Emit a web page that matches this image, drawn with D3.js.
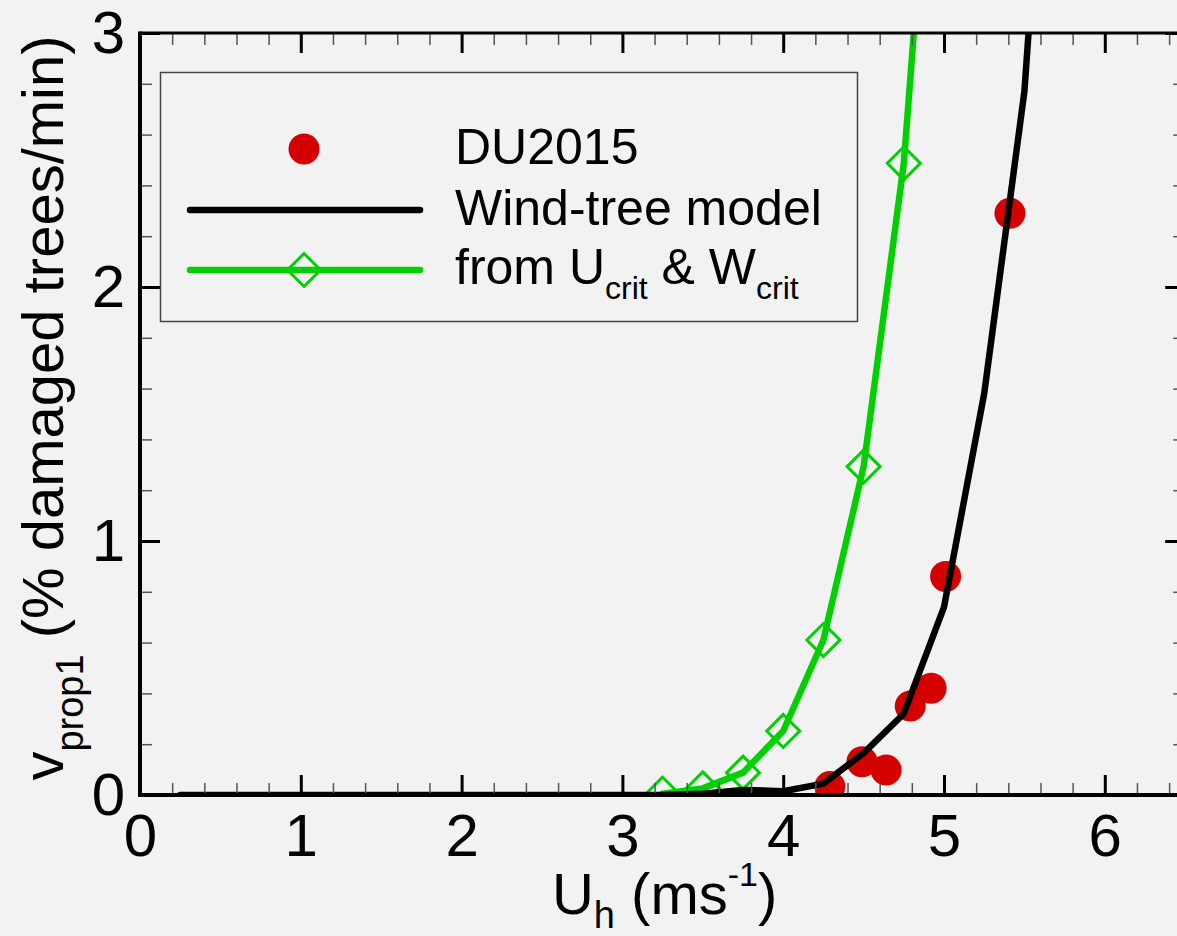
<!DOCTYPE html>
<html>
<head>
<meta charset="utf-8">
<script src="https://cdn.jsdelivr.net/npm/d3@7"></script>
<style>
  html, body { margin: 0; padding: 0; background: #f2f2f2; }
  svg { display: block; font-family: "Liberation Sans", Arial, sans-serif; }
</style>
</head>
<body>
<svg id="chart" width="1177" height="936"></svg>
<script>
// wind-tree model curve
const modelX = [0.25, 0.5, 0.75, 1, 1.25, 1.5, 1.75, 2, 2.25, 2.5, 2.75, 3, 3.25, 3.5, 3.75, 4, 4.25, 4.5, 4.75, 5, 5.25, 5.5, 5.75];
const modelY = [0, 0, 0, 0, 0, 0, 0, 0, 0, 0, 0, 0, 0, 0.005, 0.02, 0.015, 0.045, 0.165, 0.32, 0.74, 1.58, 2.77, 5.0];
// from U_crit & W_crit
const critX = [3.25, 3.5, 3.75, 4, 4.25, 4.5, 4.75, 5];
const critY = [0.005, 0.026, 0.088, 0.252, 0.61, 1.293, 2.487, 4.55];
// DU2015 observations
const duX = [4.29, 4.49, 4.64, 4.79, 4.92, 5.01, 5.41];
const duY = [0.033, 0.131, 0.098, 0.35, 0.42, 0.86, 2.29];

const xMajor = [0, 1, 2, 3, 4, 5, 6];
const yMajor = [0, 1, 2, 3];

const RED = '#d40000';
const GREEN = '#00d000';

const svg = d3.select('#chart');
const margin = {left: 140, top: 33};
const plotW = 6.5 * 160.8;
const plotH = 762;

const x = d3.scaleLinear().domain([0, 6.5]).range([margin.left, margin.left + plotW]);
const y = d3.scaleLinear().domain([0, 3]).range([margin.top + plotH, margin.top]);

const xMinor = d3.range(0, 6.5, 0.2).filter(v => Math.abs(v - Math.round(v)) > 1e-6);
const yMinor = d3.range(0, 3, 0.2).filter(v => Math.abs(v - Math.round(v)) > 1e-6);

svg.append('defs').append('clipPath').attr('id', 'plotClip')
  .append('rect')
  .attr('x', x(0)).attr('y', y(3))
  .attr('width', x(6.5) - x(0)).attr('height', y(0) - y(3));

const plot = svg.append('g').attr('clip-path', 'url(#plotClip)');

// DU2015 dots
plot.selectAll('.du')
  .data(duX.map((d, i) => ({x: d, y: duY[i]})))
  .join('circle').attr('class', 'du')
  .attr('cx', d => x(d.x))
  .attr('cy', d => y(d.y))
  .attr('r', 15.5)
  .style('fill', RED);

const line = d3.line().x(d => x(d.x)).y(d => y(d.y));

// green curve + diamonds
const critData = critX.map((d, i) => ({x: d, y: critY[i]}));
plot.append('path')
  .datum(critData)
  .attr('d', line)
  .style('fill', 'none')
  .style('stroke', GREEN)
  .style('stroke-width', 6.5)
  .style('stroke-linejoin', 'round')
  .style('stroke-linecap', 'round');

const diamond = s => `M0,${-s}L${s},0L0,${s}L${-s},0Z`;
plot.selectAll('.crit')
  .data(critData)
  .join('path').attr('class', 'crit')
  .attr('transform', d => `translate(${x(d.x)},${y(d.y)})`)
  .attr('d', diamond(16.5))
  .style('fill', 'none')
  .style('stroke', GREEN)
  .style('stroke-width', 3);

// black model curve
plot.append('path')
  .datum(modelX.map((d, i) => ({x: d, y: modelY[i]})))
  .attr('d', line)
  .style('fill', 'none')
  .style('stroke', '#000')
  .style('stroke-width', 6.5)
  .style('stroke-linejoin', 'round')
  .style('stroke-linecap', 'round');

// Axes: major / minor ticks on all four sides, pointing inward
const axes = svg.append('g');
const styleAxis = (g, major) => {
  g.select('.domain').remove();
  g.selectAll('.tick line')
    .style('stroke', major ? '#000' : '#555')
    .style('stroke-width', major ? 3 : 1.5);
  g.selectAll('.tick text')
    .style('font-size', '60px')
    .style('fill', '#000')
    .style('font-family', '"Liberation Sans", Arial, sans-serif');
};

axes.append('g').attr('transform', `translate(0,${y(0)})`)
  .call(d3.axisBottom(x).tickValues(xMinor).tickSize(-12).tickFormat(''))
  .call(g => styleAxis(g, false));
axes.append('g').attr('transform', `translate(0,${y(0)})`)
  .call(d3.axisBottom(x).tickValues(xMajor).tickSize(-20).tickPadding(18).tickFormat(d3.format('d')))
  .call(g => styleAxis(g, true));

axes.append('g').attr('transform', `translate(0,${y(3)})`)
  .call(d3.axisTop(x).tickValues(xMinor).tickSize(-12).tickFormat(''))
  .call(g => styleAxis(g, false));
axes.append('g').attr('transform', `translate(0,${y(3)})`)
  .call(d3.axisTop(x).tickValues(xMajor).tickSize(-20).tickFormat(''))
  .call(g => styleAxis(g, true));

axes.append('g').attr('transform', `translate(${x(0)},0)`)
  .call(d3.axisLeft(y).tickValues(yMinor).tickSize(-12).tickFormat(''))
  .call(g => styleAxis(g, false));
axes.append('g').attr('transform', `translate(${x(0)},0)`)
  .call(d3.axisLeft(y).tickValues(yMajor).tickSize(-20).tickPadding(15).tickFormat(d3.format('d')))
  .call(g => styleAxis(g, true));

axes.append('g').attr('transform', `translate(${x(6.5)},0)`)
  .call(d3.axisRight(y).tickValues(yMinor).tickSize(-12).tickFormat(''))
  .call(g => styleAxis(g, false));
axes.append('g').attr('transform', `translate(${x(6.5)},0)`)
  .call(d3.axisRight(y).tickValues(yMajor).tickSize(-20).tickFormat(''))
  .call(g => styleAxis(g, true));

// frame
axes.append('line').attr('x1', x(0) - 2).attr('x2', x(6.5)).attr('y1', y(0)).attr('y2', y(0))
  .style('stroke', '#000').style('stroke-width', 4);
axes.append('line').attr('x1', x(0)).attr('x2', x(0)).attr('y1', y(3) - 1.5).attr('y2', y(0))
  .style('stroke', '#000').style('stroke-width', 4);
axes.append('line').attr('x1', x(0)).attr('x2', x(6.5)).attr('y1', y(3)).attr('y2', y(3))
  .style('stroke', '#000').style('stroke-width', 3);
axes.append('line').attr('x1', x(6.5)).attr('x2', x(6.5)).attr('y1', y(3)).attr('y2', y(0))
  .style('stroke', '#000').style('stroke-width', 4);

// axis titles
const xTitle = svg.append('text')
  .attr('x', (x(0) + x(6.5)) / 2 + 2)
  .attr('y', 914)
  .style('text-anchor', 'middle')
  .style('font-size', '58px');
xTitle.append('tspan').text('U');
xTitle.append('tspan').attr('dy', 14).style('font-size', '38px').text('h');
xTitle.append('tspan').attr('dy', -14).text(' (ms');
xTitle.append('tspan').attr('dy', -28).style('font-size', '34px').text('-1');
xTitle.append('tspan').attr('dy', 28).text(')');

const yTitle = svg.append('text')
  .attr('transform', 'translate(63,408) rotate(-90)')
  .style('text-anchor', 'middle')
  .style('font-size', '58px');
yTitle.append('tspan').text('v');
yTitle.append('tspan').attr('dy', 20).style('font-size', '38px').text('prop1');
yTitle.append('tspan').attr('dy', -20).text(' (% damaged trees/min)');

// legend
const legend = svg.append('g');
legend.append('rect')
  .attr('x', 160.5).attr('y', 72.5).attr('width', 697).attr('height', 249)
  .style('fill', 'none').style('stroke', '#444').style('stroke-width', 1.5);

legend.append('circle').attr('cx', 304).attr('cy', 149).attr('r', 15.5).style('fill', RED);
legend.append('line').attr('x1', 190).attr('x2', 420).attr('y1', 210).attr('y2', 210)
  .style('stroke', '#000').style('stroke-width', 6.5).style('stroke-linecap', 'round');
legend.append('line').attr('x1', 190).attr('x2', 420).attr('y1', 270).attr('y2', 270)
  .style('stroke', GREEN).style('stroke-width', 6.5).style('stroke-linecap', 'round');
legend.append('path').attr('transform', 'translate(304,270)').attr('d', diamond(16.5))
  .style('fill', 'none').style('stroke', GREEN).style('stroke-width', 3);

const legFont = '50px';
legend.append('text').attr('x', 455).attr('y', 164).style('font-size', legFont).text('DU2015');
legend.append('text').attr('x', 455).attr('y', 225).style('font-size', legFont).text('Wind-tree model');
const l3 = legend.append('text').attr('x', 455).attr('y', 284).style('font-size', legFont);
l3.append('tspan').text('from U');
l3.append('tspan').attr('dy', 15).style('font-size', '32px').text('crit');
l3.append('tspan').attr('dy', -15).text(' & W');
l3.append('tspan').attr('dy', 15).style('font-size', '32px').text('crit');
</script>
</body>
</html>
